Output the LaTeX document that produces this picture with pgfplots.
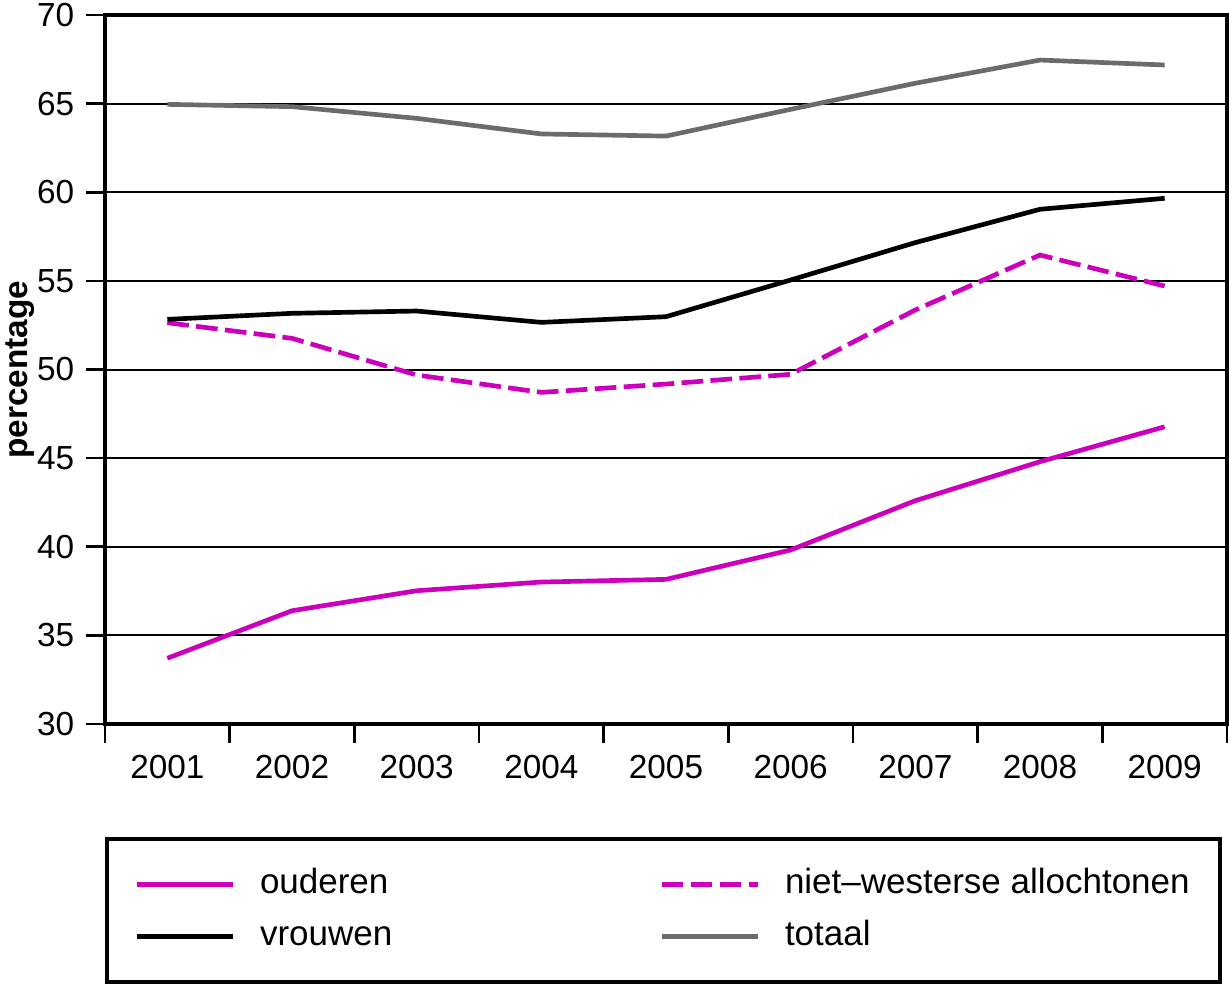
\documentclass[border=0pt]{standalone}
\usepackage{pgfplots}
\pgfplotsset{compat=1.18}
\usepackage{fontspec}
\setmainfont{Liberation Sans}
\newfontfamily\legfont{Liberation Sans}[Ligatures=TeX]

\definecolor{paars}{RGB}{204,0,187}
\definecolor{grijs}{RGB}{107,107,107}

\begin{document}
\begin{tikzpicture}
\begin{axis}[
    scale only axis,
    width=336.6pt, height=212.7pt,
    xmin=0.5, xmax=9.5,
    ymin=30, ymax=70,
    xtick={1,2,3,4,5,6,7,8,9},
    xticklabels={2001,2002,2003,2004,2005,2006,2007,2008,2009},
    minor xtick={0.5,1.5,2.5,3.5,4.5,5.5,6.5,7.5,8.5,9.5},
    ytick={30,35,40,45,50,55,60,65,70},
    ymajorgrids=true,
    major grid style={black, line width=0.6pt},
    axis line style={line width=1.2pt},
    tick align=outside,
    xtick pos=bottom, ytick pos=left,
    major tick length=5.7pt, minor tick length=5.7pt,
    major tick style={black, line width=0.8pt},
    minor tick style={black, line width=0.8pt},
    major x tick style={draw=none},
    /pgf/number format/assume math mode=true,
    tick label style={font=\fontsize{10}{12}\selectfont},
    ylabel={percentage},
    ylabel style={at={(axis description cs:-0.0758,0.5)}, anchor=center,
        font=\fontsize{10}{12}\selectfont\bfseries},
    legend columns=2,
    legend cell align=left,
    legend image code/.code={\draw[#1] (0pt,0pt) -- (28.8pt,0pt);},
    legend style={
        at={(0,0)}, anchor=north west, yshift=-33.9pt,
        draw=black, line width=1.2pt,
        inner xsep=8.2pt, inner ysep=9pt,
        row sep=6.4pt,
        font=\fontsize{10.5}{13}\legfont,
        nodes={inner sep=0pt, text height=7.2pt, text depth=2pt},
        /tikz/every odd column/.append style={column sep=7.5pt},
    },
]
% ouderen
\addplot[paars, line width=1.4pt] coordinates {
    (1,33.71) (2,36.39) (3,37.52) (4,38.01) (5,38.16)
    (6,39.82) (7,42.60) (8,44.80) (9,46.77)
};
\addlegendentry{\makebox[119.8pt][l]{ouderen}}
% niet-westerse allochtonen
\addplot[paars, line width=1.4pt, dash pattern=on 6.5pt off 2.2pt] coordinates {
    (1,52.64) (2,51.76) (3,49.69) (4,48.71) (5,49.18)
    (6,49.73) (7,53.36) (8,56.46) (9,54.71)
};
\addlegendentry{\makebox[122.3pt][l]{niet–westerse allochtonen}}
% vrouwen
\addplot[black, line width=1.4pt] coordinates {
    (1,52.83) (2,53.17) (3,53.30) (4,52.66) (5,52.98)
    (6,55.05) (7,57.16) (8,59.04) (9,59.66)
};
\addlegendentry{\makebox[119.8pt][l]{vrouwen}}
% totaal
\addplot[grijs, line width=1.4pt] coordinates {
    (1,64.96) (2,64.83) (3,64.17) (4,63.29) (5,63.17)
    (6,64.68) (7,66.15) (8,67.46) (9,67.18)
};
\addlegendentry{\makebox[122.3pt][l]{totaal}}
\end{axis}
\pgfresetboundingbox
\path[use as bounding box] (-31.5pt,-77.7pt) rectangle (337.2pt,217.2pt);
\end{tikzpicture}
\end{document}
